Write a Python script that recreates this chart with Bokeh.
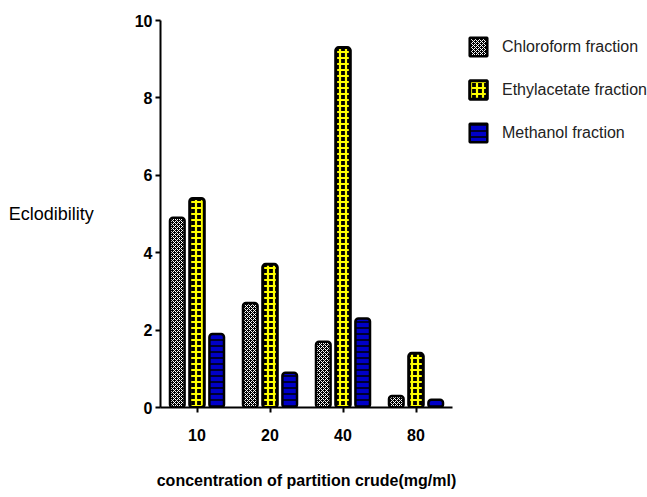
from bokeh.plotting import figure
from bokeh.models import Range1d, FactorRange, Legend, LegendItem, ColumnDataSource
from bokeh.transform import dodge
from bokeh.embed import file_html
from bokeh.resources import INLINE

categories = ["10", "20", "40", "80"]
chloroform = [4.9, 2.7, 1.7, 0.3]
ethylacetate = [5.4, 3.7, 9.3, 1.4]
methanol = [1.9, 0.9, 2.3, 0.2]
series_names = ["Chloroform fraction", "Ethylacetate fraction", "Methanol fraction"]
y_ticks = [0, 2, 4, 6, 8, 10]

FONT = "Liberation Sans"

src = ColumnDataSource(dict(cat=categories, c=chloroform, e=ethylacetate, m=methanol))

p = figure(x_range=FactorRange(factors=categories, range_padding=0),
           y_range=Range1d(0, 10), frame_width=292, frame_height=387,
           output_backend="svg", toolbar_location=None,
           min_border_left=160, min_border_right=0, min_border_top=20, min_border_bottom=88)
p.outline_line_color = None
p.xgrid.grid_line_color = None
p.ygrid.grid_line_color = None

w = 0.2
r1 = p.vbar(x=dodge("cat", -0.27, range=p.x_range), top="c", width=w, source=src,
            fill_color="black", hatch_pattern="diagonal_cross", hatch_color="white",
            hatch_scale=4, hatch_weight=1, line_color="black", line_width=2.5, border_radius=3)
r2 = p.vbar(x=dodge("cat", 0.0, range=p.x_range), top="e", width=w, source=src,
            fill_color="black", hatch_pattern="cross", hatch_color="#ffff00",
            hatch_scale=6, hatch_weight=2.2, line_color="black", line_width=3, border_radius=3)
r3 = p.vbar(x=dodge("cat", 0.27, range=p.x_range), top="m", width=w, source=src,
            fill_color="#0000c8", hatch_pattern="horizontal_line", hatch_color="black",
            hatch_scale=6, hatch_weight=1.5, line_color="black", line_width=2.5, border_radius=3)

for ax in (p.xaxis[0], p.yaxis[0]):
    ax.axis_line_width = 2
    ax.axis_line_color = "black"
    ax.major_tick_line_width = 2
    ax.major_tick_out = 5
    ax.major_tick_in = 0
    ax.minor_tick_line_color = None
    ax.major_label_text_font = FONT
    ax.major_label_text_font_style = "bold"
    ax.major_label_text_font_size = "16px"
    ax.major_label_text_color = "black"

p.yaxis.ticker = y_ticks
p.yaxis.major_label_standoff = 3
p.yaxis.axis_label = "Eclodibility"
p.yaxis.axis_label_orientation = "horizontal"
p.yaxis.axis_label_text_font = FONT
p.yaxis.axis_label_text_font_style = "normal"
p.yaxis.axis_label_text_font_size = "18px"
p.yaxis.axis_label_text_color = "black"
p.yaxis.axis_label_standoff = 38

p.xaxis.major_label_standoff = 16
p.xaxis.axis_label = "concentration of partition crude(mg/ml)"
p.xaxis.axis_label_text_font = FONT
p.xaxis.axis_label_text_font_style = "bold"
p.xaxis.axis_label_text_font_size = "16px"
p.xaxis.axis_label_text_color = "black"
p.xaxis.axis_label_standoff = 28

legend = Legend(items=[LegendItem(label=series_names[0], renderers=[r1]),
                       LegendItem(label=series_names[1], renderers=[r2]),
                       LegendItem(label=series_names[2], renderers=[r3])],
                location="top_left", orientation="vertical",
                label_text_font=FONT, label_text_font_size="16px", label_text_color="#222222",
                glyph_width=22, glyph_height=23, spacing=20, label_standoff=13,
                background_fill_alpha=0, border_line_color=None, padding=0, margin=15)
p.add_layout(legend, "right")

open("out.html", "w").write(file_html(p, INLINE))
